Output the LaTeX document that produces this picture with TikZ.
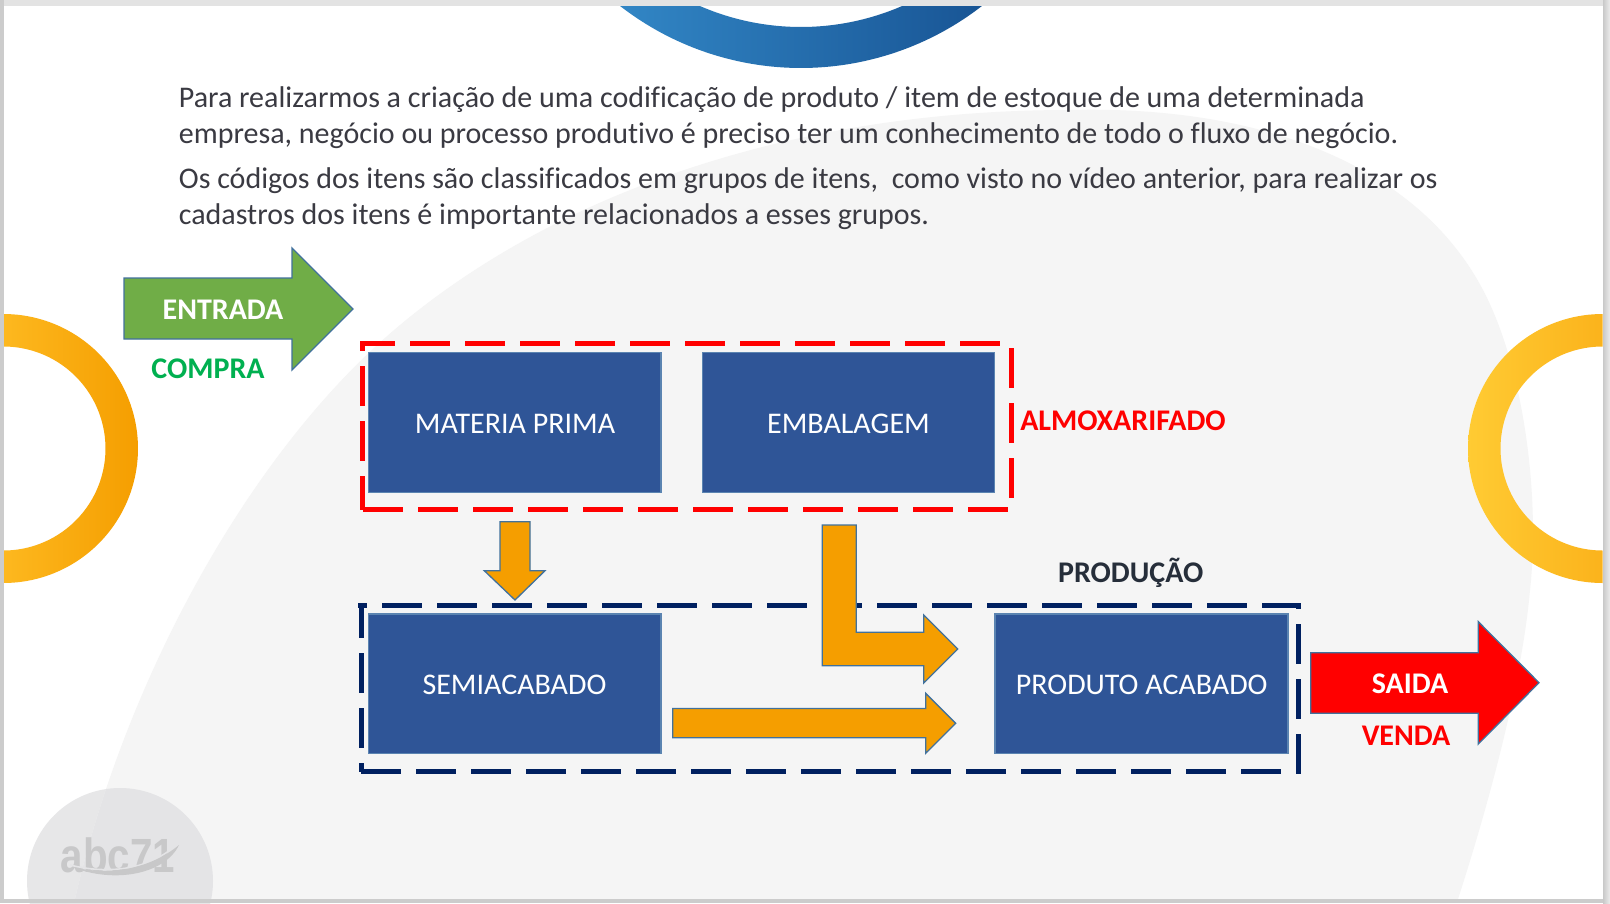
\documentclass[tikz,border=0pt]{standalone}
\usepackage{fontspec}
\setmainfont{Carlito}[Ligatures=NoCommon]
\newfontfamily\logofont{Liberation Sans}
\definecolor{boxfill}{HTML}{2F5597}
\definecolor{boxedge}{HTML}{5B84B1}
\definecolor{arrowedge}{HTML}{41719C}
\definecolor{orangeblock}{HTML}{F59E00}
\definecolor{greenblock}{HTML}{70AD47}
\definecolor{compragreen}{HTML}{00B050}
\definecolor{navyframe}{HTML}{002060}
\definecolor{bodytext}{HTML}{3A3A42}
\definecolor{darktext}{HTML}{262E3A}
\definecolor{blobgrey}{HTML}{F5F5F5}
\definecolor{logogrey}{HTML}{C8C8C9}
\definecolor{logocircle}{HTML}{E7E7E8}
\definecolor{logocircleb}{HTML}{E4E4E6}
\newcommand{\blobpath}{(75,899) .. controls (125,680) and (250,450) .. (400,325) .. controls (550,200) and (780,110) .. (1070,110) .. controls (1270,105) and (1420,170) .. (1483,290) .. controls (1525,370) and (1540,500) .. (1530,590) .. controls (1522,680) and (1490,800) .. (1458,899) -- cycle}
\tikzset{
  bluebox/.style={draw=boxedge,line width=1.3pt,fill=boxfill},
  blocktip/.style={draw=arrowedge,line width=1.3pt,miter limit=10},
  bodyline/.style={anchor=base west,inner sep=0pt,text=bodytext,font=\fontsize{30}{36}\selectfont},
  boxlabel/.style={anchor=base,inner sep=0pt,text=white,font=\fontsize{30}{36}\selectfont},
  boldlabel/.style={anchor=base,inner sep=0pt,font=\fontsize{30}{36}\selectfont\bfseries},
  redframe/.style={draw=red,line width=5pt},
  navyedge/.style={draw=navyframe,line width=5pt},
}
\begin{document}
\begin{tikzpicture}[x=1pt,y=-1pt]
\useasboundingbox (0,0) rectangle (1610,903);
% slide
\fill[white] (0,0) rectangle (1610,903);
% logo circle and background blob
\fill[logocircle] (120,881) circle[radius=93pt];
\fill[blobgrey] \blobpath;
\begin{scope}
  \clip (120,881) circle[radius=93pt];
  \fill[logocircleb] \blobpath;
\end{scope}
% rings
\shade[left color={rgb,255:red,253;green,184;blue,31},right color=orangeblock]
  plot[domain=-90:90,samples=90] ({3.5+134.5*cos(\x)},{448.5+134.5*sin(\x)})
  -- plot[domain=90:-90,samples=90] ({3.5+102*cos(\x)},{448.5+102*sin(\x)}) -- cycle;
\shade[left color={rgb,255:red,255;green,203;blue,51},right color={rgb,255:red,251;green,179;blue,28}]
  plot[domain=90:270,samples=90] ({1602.5+134.5*cos(\x)},{448.5+134.5*sin(\x)})
  -- plot[domain=270:90,samples=90] ({1602.5+102*cos(\x)},{448.5+102*sin(\x)}) -- cycle;
% top arc
\shade[left color={rgb,255:red,50;green,135;blue,198},right color={rgb,255:red,24;green,84;blue,148}]
  plot[domain=129.7:50.3,samples=80] ({801+295*cos(\x)},{-227+295*sin(\x)})
  -- plot[domain=63.3:116.7,samples=60] ({801+254*cos(\x)},{-227+254*sin(\x)}) -- cycle;
% logo
\node[anchor=base,inner sep=0pt,text=logogrey,xscale=.84,font=\logofont\fontsize{48}{48}\selectfont\bfseries] (logotext) at (118,872) {abc71};
\draw[logocircleb,line width=1.6pt] (70,865) .. controls (110,875) and (150,869) .. (176,845);
\fill[logogrey] (72,867) .. controls (110,876) and (150,869) .. (179,845) .. controls (165,874) and (115,884) .. (72,867) -- cycle;
% frames
\draw[redframe,dash pattern=on 40pt off 15pt,dash phase=6pt] (361,343.3) -- (1000,343.3);
\draw[redframe,dash pattern=on 40pt off 15pt,dash phase=30pt] (362.7,341) -- (362.7,510);
\draw[redframe,dash pattern=on 40pt off 15pt] (363,509.3) -- (1008,509.3);
\draw[redframe,dash pattern=on 40pt off 15pt] (1011,348) -- (1011,497.5);
\draw[navyedge,dash pattern=on 40pt off 15pt,dash phase=31pt] (358,605.7) -- (1301,605.7);
\draw[navyedge,dash pattern=on 40pt off 15pt,dash phase=5pt] (361,603) -- (361,772);
\draw[navyedge,dash pattern=on 40pt off 15pt] (361,771.7) -- (1301,771.7);
\draw[navyedge,dash pattern=on 40pt off 15pt,dash phase=34pt] (1298.7,603) -- (1298.7,774);
% boxes
\draw[bluebox] (368.3,352.7) rectangle (661,492.3);
\draw[bluebox] (702.5,352.7) rectangle (994.6,492.3);
\draw[bluebox] (368.3,614) rectangle (661,753.3);
\draw[bluebox] (995,614) rectangle (1288,753.3);
\node[boxlabel] (materia) at (515,433) {MATERIA PRIMA};
\node[boxlabel] (embalagem) at (848.5,433) {EMBALAGEM};
\node[boxlabel] (semi) at (514.5,694) {SEMIACABADO};
\node[boxlabel] (produto) at (1141.7,694) {PRODUTO ACABADO};
% block arrows
\draw[blocktip,fill=greenblock] (124,278) -- (292,278) -- (292,248) -- (353,309) -- (292,370) -- (292,339) -- (124,339) -- cycle;
\draw[blocktip,fill=red] (1310.7,652.7) -- (1478.3,652.7) -- (1478.3,621.7) -- (1539,682.7) -- (1478.3,744) -- (1478.3,713.3) -- (1310.7,713.3) -- cycle;
\draw[blocktip,fill=orangeblock] (500,521.7) -- (530,521.7) -- (530,570.7) -- (545,570.7) -- (515,600) -- (484.3,570.7) -- (500,570.7) -- cycle;
\draw[blocktip,fill=orangeblock] (822.3,525) -- (856.3,525) -- (856.3,632.3) -- (923.7,632.3) -- (923.7,615) -- (957.7,649) -- (923.7,683) -- (923.7,665.7) -- (822.3,665.7) -- cycle;
\draw[blocktip,fill=orangeblock] (672.7,708.5) -- (925.7,708.5) -- (925.7,693.3) -- (955.7,723.3) -- (925.7,753.3) -- (925.7,737.7) -- (672.7,737.7) -- cycle;
% body text
\node[bodyline] (l1) at (178.7,107) {Para realizarmos a criação de uma codificação de produto / item de estoque de uma determinada};
\node[bodyline] (l2) at (178.7,143) {empresa, negócio ou processo produtivo é preciso ter um conhecimento de todo o fluxo de negócio.};
\node[bodyline] (l3) at (178.7,188) {Os códigos dos itens são classificados em grupos de itens,\ \ como visto no vídeo anterior, para realizar os};
\node[bodyline] (l4) at (178.7,224) {cadastros dos itens é importante relacionados a esses grupos.};
% labels
\node[boldlabel,text=white] (entrada) at (223,319.5) {ENTRADA};
\node[boldlabel,text=compragreen] (compra) at (208,378.7) {COMPRA};
\node[boldlabel,text=white] (saida) at (1410,693.7) {SAIDA};
\node[boldlabel,text=red] (venda) at (1406,745.3) {VENDA};
\node[boldlabel,text=red] (almox) at (1123,430.3) {ALMOXARIFADO};
\node[boldlabel,text=darktext] (producao) at (1130.7,582.7) {PRODUÇÃO};
% window edges
\fill[gray!22] (0,0) rectangle (1610,6);
\fill[gray!40] (0,0) rectangle (4,903);
\fill[gray!40] (0,899) rectangle (1610,903);
\shade[left color=gray!42,right color=gray!15] (1603,0) rectangle (1610,903);
\end{tikzpicture}
\end{document}
